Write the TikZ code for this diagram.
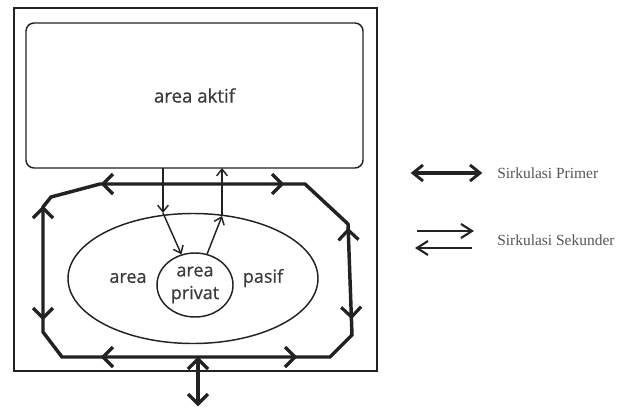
\documentclass[tikz,border=0pt]{standalone}
\usepackage{fontspec}
\usetikzlibrary{arrows.meta,shapes.geometric}
\newfontfamily\handfont[FakeBold=0.6]{Open Sans}
\newfontfamily\legfont{Liberation Serif}
\definecolor{inkc}{HTML}{222222}
\definecolor{txtc}{HTML}{3A3A3A}
\definecolor{legc}{HTML}{555555}
\tikzset{
  prim/.style={draw=inkc,line width=2.6pt,line join=miter},
  chev/.pic={\draw[draw=inkc,line width=2.4pt,line join=miter,line cap=butt] (-10,-10) -- (0,0) -- (-10,10);},
  legchev/.pic={\draw[draw=inkc,line width=2.2pt,line join=miter,line cap=butt] (-10,-8) -- (0,0) -- (-10,8);},
  secchev/.pic={\draw[draw=inkc,line width=1.6pt,line join=miter,line cap=butt] (-11,-7) -- (0,0) -- (-11,7);},
  thinline/.style={draw=inkc,line width=1.1pt},
  thinarrow/.style={thinline,-{Straight Barb[length=5pt,width=8pt,line width=1.1pt]}},
  lbl/.style={text=txtc,font=\handfont\fontsize{13.5pt}{15pt}\selectfont,inner sep=0pt},
  legtxt/.style={text=legc,font=\legfont\fontsize{11.6pt}{13pt}\selectfont,anchor=west,inner sep=0pt},
}
\begin{document}
\begin{tikzpicture}[x=0.75pt,y=-0.75pt]
\useasboundingbox (0,0) rectangle (617,407);
% outer frame
\draw[draw=inkc,line width=1.5pt] (14,8) rectangle (377,371);
% area aktif
\node[draw=inkc,line width=1.1pt,rounded corners=6pt,minimum width=252.75pt,minimum height=108.75pt,inner sep=0pt,lbl,font=\handfont\fontsize{14pt}{16pt}\selectfont] (aktif) at (194.5,95.5) {area aktif};
% ellipse area pasif
\node[draw=inkc,line width=1.1pt,ellipse,minimum width=187.5pt,minimum height=97.5pt,inner sep=0pt] (pasif) at (193,278.5) {};
\node[lbl] (lblarea) at (128,278) {area};
\node[lbl] (lblpasif) at (263,278) {pasif};
% area privat
\node[draw=inkc,line width=1.1pt,ellipse,minimum width=57pt,minimum height=48pt,inner sep=0pt,lbl,align=center,font=\handfont\fontsize{13.5pt}{17pt}\selectfont] (privat) at (195,285) {area\\privat};
% secondary circulation
\coordinate (c1) at (163,213);
\coordinate (c2) at (222,216);
\coordinate (a1) at (163,168);
\coordinate (a2) at (222,168);
\draw[thinarrow] (a1) -- (c1);
\draw[thinarrow] (c1) -- (privat);
\draw[thinarrow] (privat) -- (c2);
\draw[thinarrow] (c2) -- (a2);
% primary circulation polygon
\coordinate (p1) at (43,207);
\coordinate (p2) at (51,197);
\coordinate (p3) at (100,184);
\coordinate (p4) at (305,184);
\coordinate (p5) at (348,224);
\coordinate (p6) at (352,335);
\coordinate (p7) at (330,357);
\coordinate (p8) at (62,357);
\coordinate (p9) at (43,332);
\draw[prim] (p1) -- (p2) -- (p3) -- (p4) -- (p5) -- (p6) -- (p7) -- (p8) -- (p9) -- cycle;
% arrowheads on the polygon
\pic[rotate=180] at (103,184) {chev};
\pic at (282,184) {chev};
\pic[rotate=90] at (43,208) {chev};
\pic[rotate=-90] at (43,318) {chev};
\pic[rotate=92] at (348.2,230) {chev};
\pic[rotate=-88] at (351.5,317) {chev};
\pic[rotate=180] at (103,357) {chev};
\pic at (295,357) {chev};
% entrance
\coordinate (e1) at (198,359);
\coordinate (e2) at (198,404);
\draw[prim] (e1) -- (e2);
\pic[rotate=90] at (e1) {chev};
\pic[rotate=-90] at (e2) {chev};
% legend
\coordinate (l1) at (413,173);
\coordinate (l2) at (480,173);
\draw[draw=inkc,line width=2.3pt] (l1) -- (l2);
\pic[rotate=180] at (l1) {legchev};
\pic at (l2) {legchev};
\node[legtxt] (leg1) at (497,173) {Sirkulasi Primer};
\coordinate (s1) at (417,231);
\coordinate (s2) at (472,231);
\coordinate (s3) at (472,248);
\coordinate (s4) at (417,248);
\draw[draw=inkc,line width=1.6pt] (s1) -- (s2);
\draw[draw=inkc,line width=1.6pt] (s3) -- (s4);
\pic at (s2) {secchev};
\pic[rotate=180] at (s4) {secchev};
\node[legtxt] (leg2) at (497,240) {Sirkulasi Sekunder};
\end{tikzpicture}
\end{document}
